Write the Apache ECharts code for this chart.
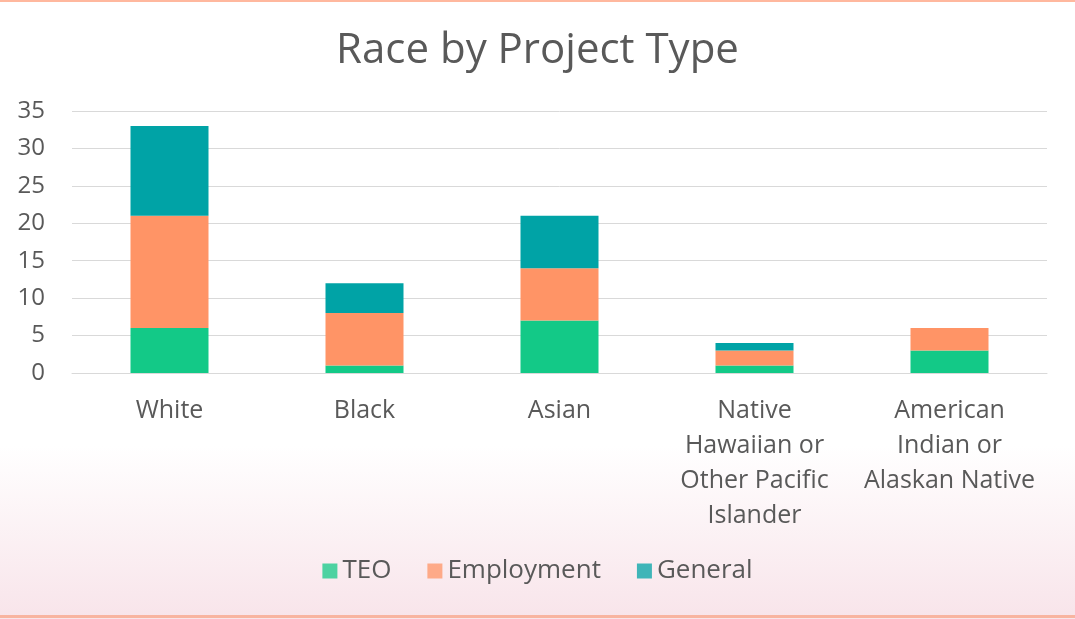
<!DOCTYPE html>
<html>
<head>
    <meta charset="utf-8" />
    <title>Race by Project Type</title>
    <script src="https://cdn.jsdelivr.net/npm/echarts@6/dist/echarts.min.js"></script>
    <style>
        html, body { margin: 0; padding: 0; }
        #chart { width: 1075px; height: 619px; }
    </style>
</head>
<body>
    <div id="chart"></div>
    <script type="text/javascript">
        var categories = ['White', 'Black', 'Asian', 'Native\nHawaiian or\nOther Pacific\nIslander', 'American\nIndian or\nAlaskan Native'];
        var teoData = [6, 1, 7, 1, 3];
        var employmentData = [15, 7, 7, 2, 3];
        var generalData = [12, 4, 7, 1, 0];
        var yTicks = [0, 5, 10, 15, 20, 25, 30, 35];

        var chart = echarts.init(document.getElementById('chart'));
        var font = '"Open Sans", "Noto Sans", sans-serif';
        var option = {
            animation: false,
            backgroundColor: {
                type: 'linear', x: 0, y: 0, x2: 0, y2: 1,
                colorStops: [
                    { offset: 0, color: '#ffffff' },
                    { offset: 0.72, color: '#ffffff' },
                    { offset: 1, color: '#f8e4ea' }
                ]
            },
            title: {
                text: 'Race by Project Type',
                left: 'center',
                top: 25,
                textStyle: { fontFamily: font, fontSize: 42, fontWeight: 'normal', color: '#595959' }
            },
            legend: {
                bottom: 30,
                left: 'center',
                itemWidth: 15,
                itemHeight: 15,
                itemGap: 36,
                icon: 'rect',
                itemStyle: { opacity: 0.75 },
                textStyle: { fontFamily: font, fontSize: 26, color: '#595959' },
                data: ['TEO', 'Employment', 'General']
            },
            grid: { left: 72, right: 28, top: 111, bottom: 246, containLabel: false },
            xAxis: {
                type: 'category',
                data: categories,
                axisLine: { lineStyle: { color: '#d9d9d9' } },
                axisTick: { show: false },
                axisLabel: { fontFamily: font, fontSize: 25, color: '#595959', lineHeight: 35, margin: 20, interval: 0 }
            },
            yAxis: {
                type: 'value',
                min: yTicks[0],
                max: yTicks[yTicks.length - 1],
                interval: 5,
                axisLine: { show: false },
                axisTick: { show: false },
                splitLine: { lineStyle: { color: '#d9d9d9', width: 1 } },
                axisLabel: { fontFamily: font, fontSize: 24, color: '#595959', margin: 27 }
            },
            series: [{
                name: 'TEO',
                type: 'bar',
                stack: 'total',
                barWidth: 78,
                color: '#13c987',
                data: teoData
            }, {
                name: 'Employment',
                type: 'bar',
                stack: 'total',
                color: '#ff9466',
                data: employmentData
            }, {
                name: 'General',
                type: 'bar',
                stack: 'total',
                color: '#00a3a6',
                data: generalData
            }],
            graphic: [
                { type: 'rect', shape: { x: 0, y: 0, width: 1075, height: 2 }, style: { fill: '#ffb89e' } },
                { type: 'rect', shape: { x: 0, y: 615, width: 1075, height: 3 }, style: { fill: '#f8b4a0' } }
            ]
        };
        chart.setOption(option, true);
    </script>
</body>
</html>
